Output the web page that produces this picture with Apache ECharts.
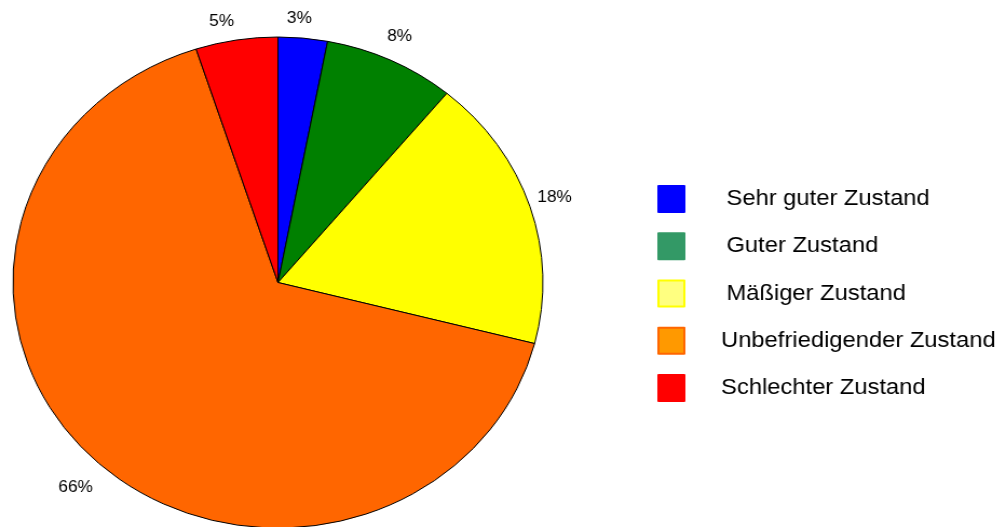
<!DOCTYPE html>
<html>
<head>
<meta charset="utf-8">
<script src="https://cdn.jsdelivr.net/npm/echarts@6/dist/echarts.min.js"></script>
<style>
  html, body { margin: 0; padding: 0; background: #fff; overflow: hidden; }
  #chart {
    position: absolute; left: 0; top: 0;
    width: 927px; height: 527px;
    transform: scaleX(1.0794); transform-origin: 0 0;
  }
</style>
</head>
<body>
<div id="chart"></div>
<script>
// Zustandsverteilung (Anteile in Prozent)
const categories = ['Sehr guter Zustand', 'Guter Zustand', 'Mäßiger Zustand', 'Unbefriedigender Zustand', 'Schlechter Zustand'];
const shares = [3, 8, 18, 66, 5];

// Farben der Segmente und der Legendensymbole
const sliceColors = ['#0000FF', '#008000', '#FFFF00', '#FF6600', '#FF0000'];
const legendFill = ['#0000FF', '#339966', '#FFFF80', '#FF9900', '#FF0000'];
const legendBorder = ['#0000FF', '#339966', '#FFFF00', '#FF6600', '#FF0000'];
const legendTextIndent = [34, 34, 34, 29, 29];
// Feinausrichtung der Prozentbeschriftungen (px)
const labelNudge = [[-5.5, 4.5], [-2, -2.5], [0, -2], [-3, 9], [-10, 5]];

const FONT = "'Liberation Sans', Arial, Helvetica, sans-serif";

const chart = echarts.init(document.getElementById('chart'), null, { renderer: 'canvas' });

chart.setOption({
  animation: false,
  backgroundColor: '#fff',
  legend: {
    orient: 'vertical',
    left: 609,
    top: 185,
    padding: 0,
    itemWidth: 24,
    itemHeight: 26,
    itemGap: 19.25,
    icon: 'rect',
    selectedMode: false,
    textStyle: { fontFamily: FONT, fontSize: 22, color: '#000' },
    data: categories.map((name, i) => ({
      name,
      icon: 'rect',
      itemStyle: { color: legendFill[i], borderColor: legendBorder[i], borderWidth: 2 },
      textStyle: { padding: [4, 0, 0, legendTextIndent[i]] }
    }))
  },
  series: [{
    type: 'pie',
    center: [257.5, 282.5],
    radius: 245.5,
    startAngle: 90,
    clockwise: true,
    avoidLabelOverlap: false,
    silent: true,
    itemStyle: { borderColor: '#000', borderWidth: 1 },
    label: {
      show: true,
      position: 'outside',
      formatter: '{c}%',
      fontFamily: FONT,
      fontSize: 16,
      color: '#000',
      distanceToLabelLine: 0
    },
    labelLine: { show: false, length: 24, length2: 0 },
    labelLayout: (p) => ({
      align: 'center',
      dx: labelNudge[p.dataIndex][0],
      dy: labelNudge[p.dataIndex][1]
    }),
    data: categories.map((name, i) => ({
      name,
      value: shares[i],
      itemStyle: { color: sliceColors[i] }
    }))
  }]
});
</script>
</body>
</html>
